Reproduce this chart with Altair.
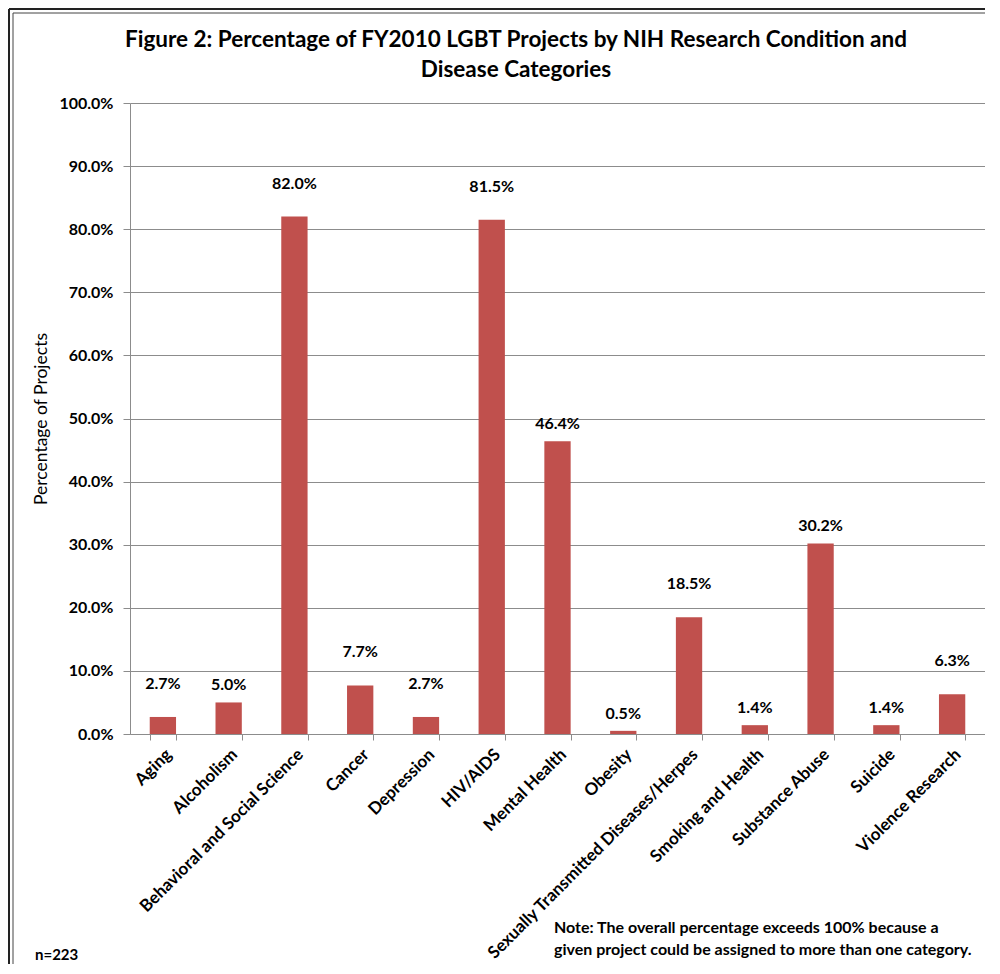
import altair as alt
import pandas as pd

categories = ["Aging", "Alcoholism", "Behavioral and Social Science", "Cancer", "Depression",
              "HIV/AIDS", "Mental Health", "Obesity", "Sexually Transmitted Diseases/Herpes",
              "Smoking and Health", "Substance Abuse", "Suicide", "Violence Research"]
values = [2.7, 5.0, 82.0, 7.7, 2.7, 81.5, 46.4, 0.5, 18.5, 1.4, 30.2, 1.4, 6.3]
raised_labels = ["Aging", "Behavioral and Social Science", "Cancer", "Depression",
                 "HIV/AIDS", "Sexually Transmitted Diseases/Herpes", "Violence Research"]
title_lines = ["Figure 2: Percentage of FY2010 LGBT Projects by NIH Research Condition and",
               "Disease Categories"]
note_lines = ["Note: The overall percentage exceeds 100% because a",
              "given project could be assigned to more than one category."]
n_text = "n=223"

df = pd.DataFrame({"cat": categories, "val": values})
df["label"] = [f"{v:.1f}%" for v in values]
df["raised"] = [c in raised_labels for c in categories]

FONT = "Lato"
GRAY = "#8c8c8c"
W, H = 855, 631

xenc = alt.X("cat:N", sort=categories,
             scale=alt.Scale(paddingInner=0.6, paddingOuter=0.3),
             axis=alt.Axis(title=None, labelAngle=-45, labelFontSize=17, labelFontWeight="bold",
                           labelColor="#000", tickBand="extent", tickColor=GRAY, tickSize=6,
                           domainColor=GRAY, grid=False, labelPadding=6, labelLimit=400))
yenc = alt.Y("val:Q", scale=alt.Scale(domain=[0, 100], nice=False),
             axis=alt.Axis(title="Percentage of Projects", values=list(range(0, 101, 10)),
                           labelExpr="format(datum.value, '.1f') + '%'",
                           labelFontSize=16, labelFontWeight="bold", labelColor="#000",
                           titleFontSize=17.5, titleFontWeight="normal", titleColor="#000",
                           titlePadding=8, tickColor=GRAY, tickSize=7, domainColor=GRAY,
                           gridColor=GRAY, labelPadding=10))

base = alt.Chart(df)
bars = base.mark_bar(color="#C0504D").encode(x=xenc, y=yenc)
lab_low = base.transform_filter("!datum.raised").mark_text(
    dy=-17, fontSize=16, fontWeight="bold", font=FONT, color="#000").encode(
    x=alt.X("cat:N", sort=categories), y="val:Q", text="label:N")
lab_high = base.transform_filter("datum.raised").mark_text(
    dy=-33, fontSize=16, fontWeight="bold", font=FONT, color="#000").encode(
    x=alt.X("cat:N", sort=categories), y="val:Q", text="label:N")


def text_layer(txt, x, y, size, weight="bold", align="left"):
    return alt.Chart(pd.DataFrame({"t": [txt]})).mark_text(
        align=align, baseline="middle", fontSize=size, fontWeight=weight, font=FONT,
        color="#000").encode(text="t:N", x=alt.value(x), y=alt.value(y))


title1 = text_layer(title_lines[0], 386, -63, 22.5, align="center")
title2 = text_layer(title_lines[1], 386, -33, 22.5, align="center")
note1 = text_layer(note_lines[0], 424, 825, 16)
note2 = text_layer(note_lines[1], 424, 847, 16)
n_chart = text_layer(n_text, -95, 852, 15)

one = pd.DataFrame({"a": [0]})
border1 = alt.Chart(one).mark_rule(color="#222", strokeWidth=2).encode(
    x=alt.value(-121), y=alt.value(-94), y2=alt.value(H + 240))
border2 = alt.Chart(one).mark_rule(color="#444", strokeWidth=1).encode(
    x=alt.value(-117), y=alt.value(-90), y2=alt.value(H + 240))
border3 = alt.Chart(one).mark_rule(color="#222", strokeWidth=2).encode(
    x=alt.value(-121), x2=alt.value(W + 10), y=alt.value(-94))
border4 = alt.Chart(one).mark_rule(color="#444", strokeWidth=1).encode(
    x=alt.value(-117), x2=alt.value(W + 10), y=alt.value(-90))

chart = alt.layer(bars, lab_low, lab_high, title1, title2, note1, note2, n_chart,
                  border1, border2, border3, border4).properties(
    width=W, height=H,
    autosize=alt.AutoSizeParams(type="none"),
    padding={"left": 122, "top": 95, "right": 0, "bottom": 230},
).configure(font=FONT).configure_view(stroke=None)

chart.save("out.html", embed_options={"renderer": "svg", "actions": False})
